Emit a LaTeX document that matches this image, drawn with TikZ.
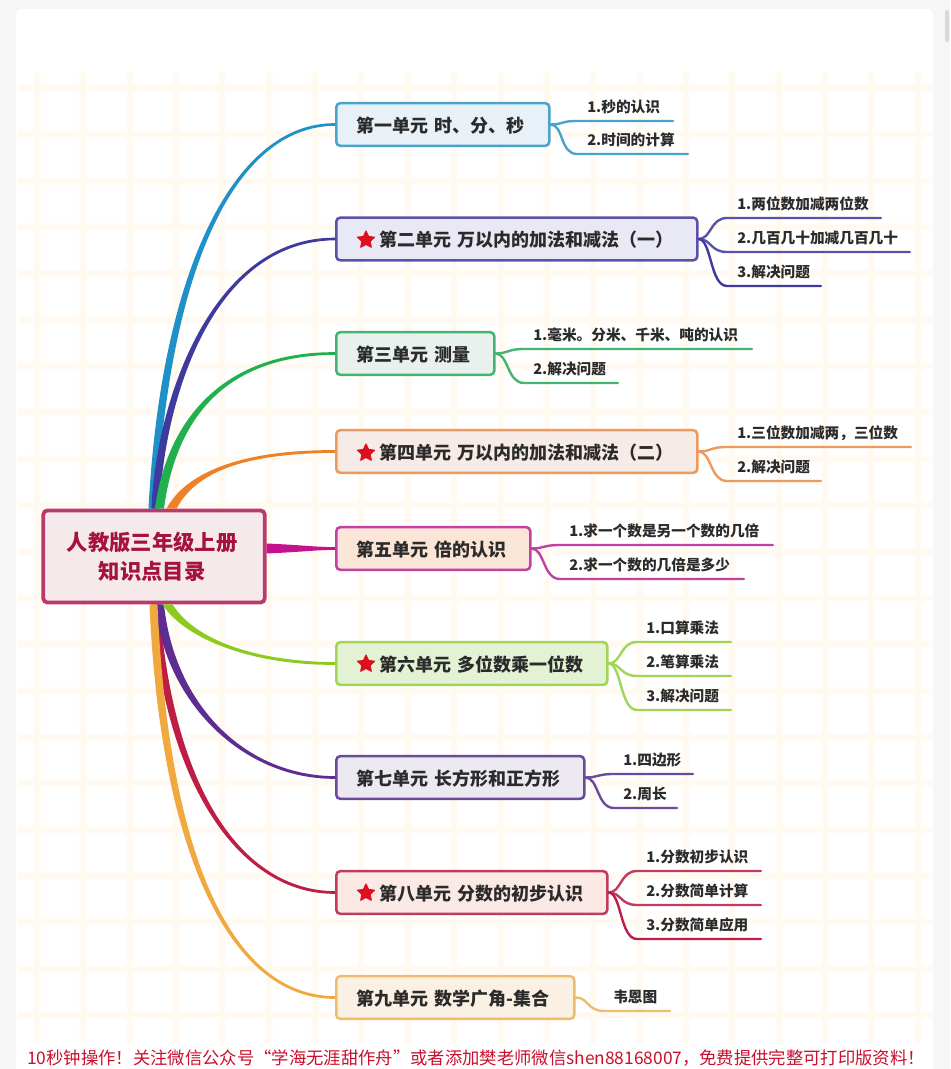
\documentclass[tikz,border=0pt]{standalone}
\usepackage{fontspec}
\setmainfont{Noto Sans CJK SC}
\usetikzlibrary{calc,shapes.geometric}
\definecolor{pagebg}{HTML}{F6F6F6}
\definecolor{gridA}{HTML}{FFFCF8}
\definecolor{gridB}{HTML}{FFF9F0}
\definecolor{inkc}{HTML}{2B2B2B}
\definecolor{cA}{HTML}{4AA3CC}\definecolor{fA}{HTML}{E8F1F8}\definecolor{tA}{HTML}{2090C8}
\definecolor{cB}{HTML}{5A52A8}\definecolor{fB}{HTML}{E9E9F5}\definecolor{tB}{HTML}{3F3A9E}
\definecolor{cC}{HTML}{45B471}\definecolor{fC}{HTML}{E9F1EC}\definecolor{tC}{HTML}{22B04F}
\definecolor{cD}{HTML}{ED9A5E}\definecolor{fD}{HTML}{F6EBE6}\definecolor{tD}{HTML}{EE8128}
\definecolor{cE}{HTML}{C340A4}\definecolor{fE}{HTML}{FAE5D6}\definecolor{tE}{HTML}{C4128F}
\definecolor{cF}{HTML}{A2D458}\definecolor{fF}{HTML}{E3F2D3}\definecolor{tF}{HTML}{8CCB1E}
\definecolor{cG}{HTML}{6C4A9A}\definecolor{fG}{HTML}{EDE9F0}\definecolor{tG}{HTML}{5E2D92}
\definecolor{cH}{HTML}{C23A5E}\definecolor{fH}{HTML}{FBE9E6}\definecolor{tH}{HTML}{BE1E46}
\definecolor{cI}{HTML}{EFBC6C}\definecolor{fI}{HTML}{FBF0E4}\definecolor{tI}{HTML}{EFA93F}
\definecolor{rootline}{HTML}{B93A6C}\definecolor{rootfill}{HTML}{F6E9EC}\definecolor{roottext}{HTML}{A5123D}
\definecolor{starred}{HTML}{DD1020}\definecolor{notered}{HTML}{C8102E}
\tikzset{
  unitbox/.style 2 args={draw=#1,fill=#2,line width=1.9pt,rounded corners=3pt,anchor=west,inner xsep=0pt,inner ysep=0pt,minimum height=32pt,text height=13pt,text depth=1.3pt,align=left,text=inkc,font=\fontsize{13.5}{16}\selectfont\bfseries},
  subtext/.style={anchor=west,inner sep=0pt,text=inkc,font=\fontsize{11}{13}\selectfont\bfseries},
  prize/.style={star,star points=5,star point ratio=2.05,fill=starred,draw=starred,line join=round,line width=.8pt,inner sep=0pt,minimum size=13.5pt},
}
% colour, root anchor, x offset, first control, dx of second control, target, side sign, start half width
\newcommand{\trunk}[8]{%
  \fill[#1] ($(#2)+(#3,0)+(-#8,0)$) .. controls ($#4+(-#8,0)$) and ($(#6.west)+(-#5,-2*#7)$) .. ($(#6.west)+(0,-1.3*#7)$)
    -- ($(#6.west)+(0,1.3*#7)$) .. controls ($(#6.west)+(-#5,2*#7)$) and ($#4+(#8,0)$) .. ($(#2)+(#3,0)+(#8,0)$) -- cycle;}
\newcommand{\leafnode}[8]{% name, parent, colour, text x, line y, end x, bend end x, text
  \node[subtext] (#1) at (#4,#5-14) {#8};
  \coordinate (#1e) at (#6,#5);
  \draw[#3,line width=1.8pt,line cap=round] (#2.east) .. controls ($(#2.east)+(13,0)$) and (#7-17,#5) .. (#7,#5) -- (#1e);}
\begin{document}
\begin{tikzpicture}[x=.75pt,y=-.75pt]
\useasboundingbox (0,0) rectangle (950,1069);
\fill[pagebg] (0,0) rectangle (950,1069);
\fill[white,rounded corners=4pt] (16,9) rectangle (933,1075);
\fill[gray!30,rounded corners=1pt] (945,10) rectangle (949,42);
% paper grid
\foreach \k in {0,...,19}{\draw[gridA,line width=6pt] (37+46.35*\k,72) -- (37+46.35*\k,1043);}
\foreach \k in {0,...,20}{\draw[gridA,line width=6pt] (18,88+46.35*\k) -- (932,88+46.35*\k);}
\foreach \k in {0,...,19}{\draw[gridB,line width=3pt] (37+46.35*\k,72) -- (37+46.35*\k,1043);}
\foreach \k in {0,...,20}{\draw[gridB,line width=3pt] (18,88+46.35*\k) -- (932,88+46.35*\k);}
% root
\node[draw=rootline,fill=rootfill,line width=2.8pt,rounded corners=3pt,minimum width=166pt,minimum height=69pt,align=center,text=roottext,font=\fontsize{16}{21.75}\selectfont\bfseries] (root) at (154,556.5) {人教版三年级上册\hspace*{3pt}\\知识点目录\hspace*{3pt}};
% units
\node[unitbox={cA}{fA},text width=159.75pt] (n1) at (335,124.5) {\hspace*{15pt}第一单元 时、分、秒};
\node[unitbox={cB}{fB},text width=270.75pt] (n2) at (335,239) {\hspace*{32.25pt}第二单元 万以内的加法和减法（一）};
\node[unitbox={cC}{fC},text width=118.5pt] (n3) at (335,353.5) {\hspace*{15pt}第三单元 测量};
\node[unitbox={cD}{fD},text width=270.75pt] (n4) at (335,451.5) {\hspace*{32.25pt}第四单元 万以内的加法和减法（二）};
\node[unitbox={cE}{fE},text width=145.5pt] (n5) at (335,548.5) {\hspace*{15pt}第五单元 倍的认识};
\node[unitbox={cF}{fF},text width=203.25pt] (n6) at (335,663.5) {\hspace*{32.25pt}第六单元 多位数乘一位数};
\node[unitbox={cG}{fG},text width=186pt] (n7) at (335,777.5) {\hspace*{15pt}第七单元 长方形和正方形};
\node[unitbox={cH}{fH},text width=203.25pt] (n8) at (335,892.5) {\hspace*{32.25pt}第八单元 分数的初步认识};
\node[unitbox={cI}{fI},text width=178.5pt] (n9) at (335,997.5) {\hspace*{15pt}第九单元 数学广角-集合};
% stars
\node[prize] (s2) at (366,240) {};
\node[prize] (s4) at (366,453) {};
\node[prize] (s6) at (366,664) {};
\node[prize] (s8) at (366,893) {};
% trunks
\trunk{tA}{root.north west}{111}{(165,270)}{101}{n1}{1}{4}
\trunk{tB}{root.north west}{114}{(160,400)}{123}{n2}{1}{4}
\trunk{tC}{root.north west}{118}{(172,415)}{107}{n3}{1}{4.5}
\trunk{tD}{root.north west}{130}{(195,465)}{75}{n4}{1}{5}
\trunk{tH}{root.south west}{114}{(168,785)}{95}{n8}{-1}{4}
\trunk{tG}{root.south west}{118}{(170,705)}{90}{n7}{-1}{4.5}
\trunk{tI}{root.south west}{112}{(165,865)}{100}{n9}{-1}{4}
\trunk{tF}{root.south west}{126}{(190,640)}{80}{n6}{-1}{5}
\fill[tE] ($(root.east |- n5.west)+(0,-5)$) .. controls ($(root.east |- n5.west)+(35,-3.5)$) and ($(n5.west)+(-20,-1.5)$) .. ($(n5.west)+(0,-1.3)$)
  -- ($(n5.west)+(0,1.3)$) .. controls ($(n5.west)+(-20,1.5)$) and ($(root.east |- n5.west)+(35,3.5)$) .. ($(root.east |- n5.west)+(0,5)$) -- cycle;
% leaves
\leafnode{a1}{n1}{cA}{587}{121}{673}{577}{1.秒的认识}
\leafnode{a2}{n1}{cA}{587}{154}{688}{577}{2.时间的计算}
\leafnode{b1}{n2}{cB}{737}{218}{881}{727}{1.两位数加减两位数}
\leafnode{b2}{n2}{cB}{737}{252}{910}{727}{2.几百几十加减几百几十}
\leafnode{b3}{n2}{tB}{737}{286}{821}{727}{3.解决问题}
\leafnode{c1}{n3}{cC}{533}{349}{752}{524}{1.毫米。分米、千米、吨的认识}
\leafnode{c2}{n3}{cC}{533}{383}{618}{524}{2.解决问题}
\leafnode{d1}{n4}{cD}{737}{447}{911}{727}{1.三位数加减两，三位数}
\leafnode{d2}{n4}{cD}{737}{481}{821}{727}{2.解决问题}
\leafnode{e1}{n5}{cE}{569}{545}{773}{560}{1.求一个数是另一个数的几倍}
\leafnode{e2}{n5}{cE}{569}{579}{744}{560}{2.求一个数的几倍是多少}
\leafnode{f1}{n6}{cF}{646}{642}{731}{637}{1.口算乘法}
\leafnode{f2}{n6}{cF}{646}{676}{731}{637}{2.笔算乘法}
\leafnode{f3}{n6}{cF}{646}{710}{731}{637}{3.解决问题}
\leafnode{g1}{n7}{cG}{623}{774}{693}{614}{1.四边形}
\leafnode{g2}{n7}{cG}{623}{808}{677}{614}{2.周长}
\leafnode{h1}{n8}{cH}{646}{871}{761}{637}{1.分数初步认识}
\leafnode{h2}{n8}{cH}{646}{905}{761}{637}{2.分数简单计算}
\leafnode{h3}{n8}{tH}{646}{939}{761}{637}{3.分数简单应用}
\leafnode{i1}{n9}{cI}{613}{1011}{670}{604}{韦恩图}
% footer
\node[anchor=west,inner sep=0pt,text=notered,font=\fontsize{13}{16}\selectfont] (foot) at (27,1058) {10秒钟操作！关注微信公众号“学海无涯甜作舟”或者添加樊老师微信shen88168007，免费提供完整可打印版资料！};
\end{tikzpicture}
\end{document}
